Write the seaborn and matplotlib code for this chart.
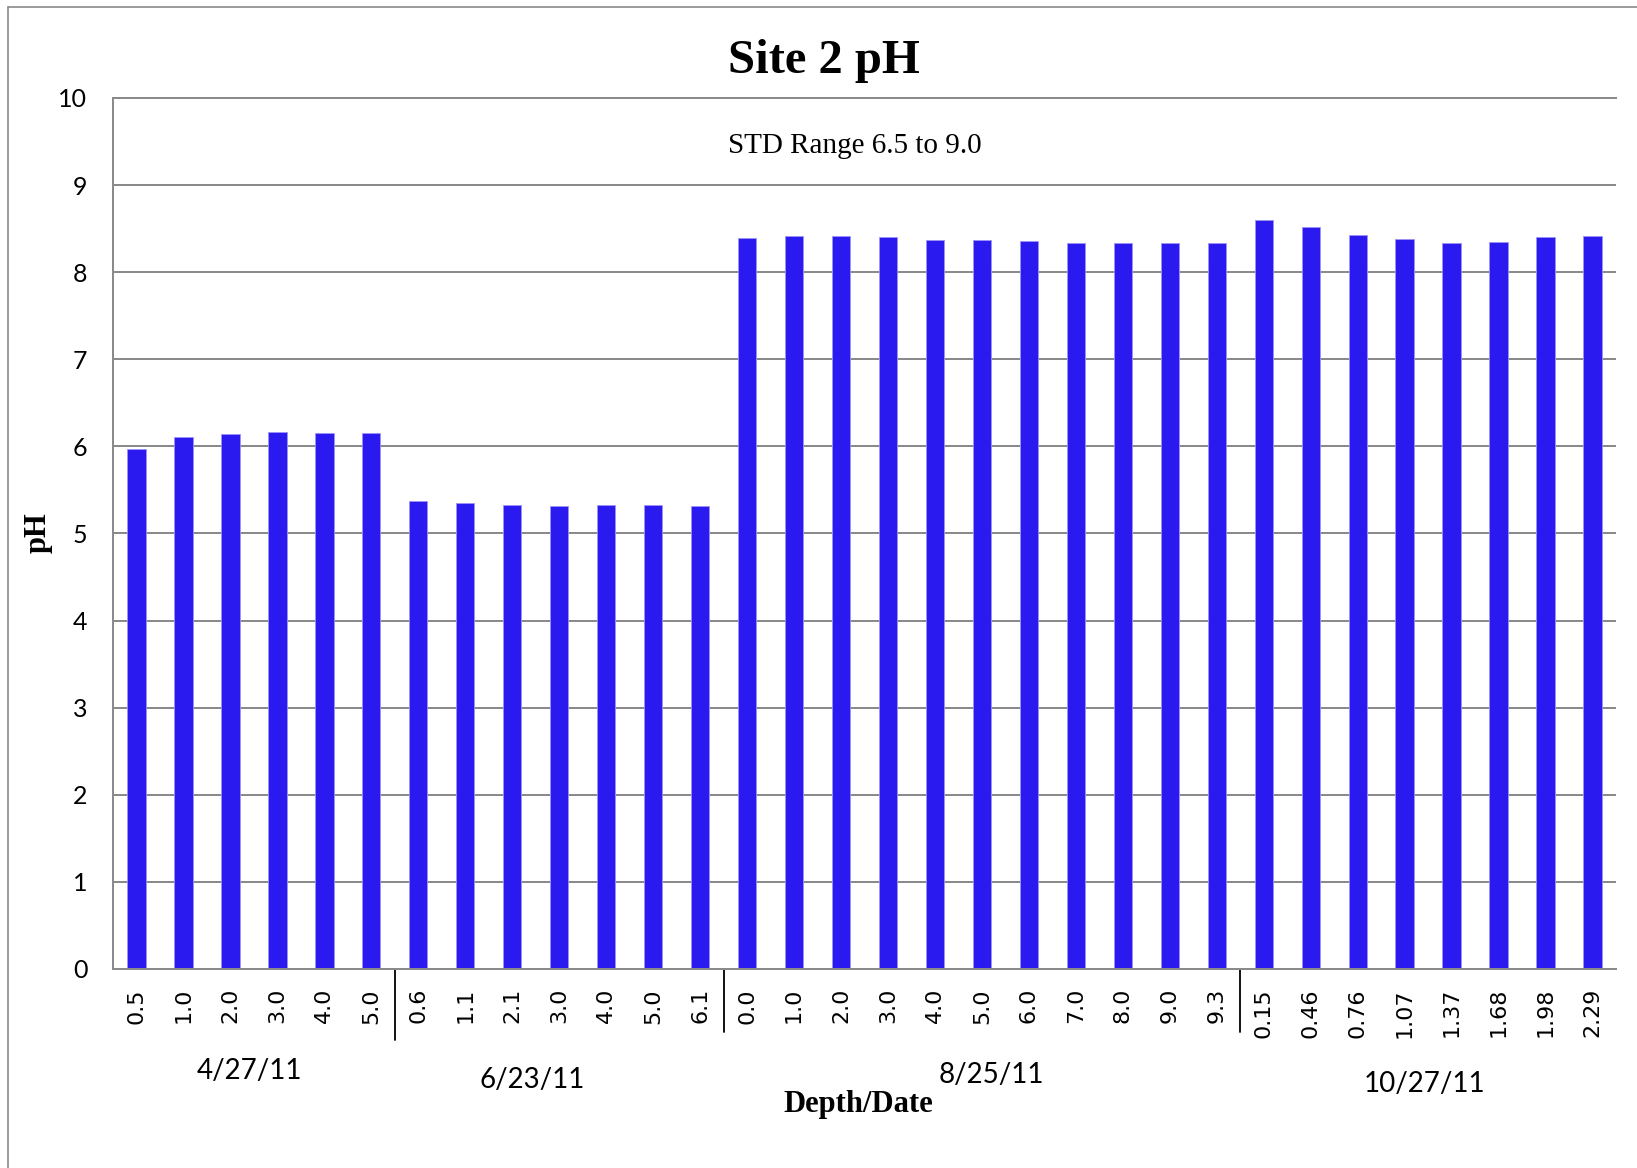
import numpy as np
import pandas as pd
import matplotlib
matplotlib.use("Agg")
import matplotlib.pyplot as plt
import matplotlib.transforms as mtransforms
from matplotlib.lines import Line2D
import seaborn as sns

# Data
dates = ["4/27/11", "6/23/11", "8/25/11", "10/27/11"]
depths_0427 = ["0.5", "1.0", "2.0", "3.0", "4.0", "5.0"]
depths_0623 = ["0.6", "1.1", "2.1", "3.0", "4.0", "5.0", "6.1"]
depths_0825 = ["0.0", "1.0", "2.0", "3.0", "4.0", "5.0", "6.0", "7.0", "8.0", "9.0", "9.3"]
depths_1027 = ["0.15", "0.46", "0.76", "1.07", "1.37", "1.68", "1.98", "2.29"]
ph_0427 = [5.97, 6.11, 6.14, 6.16, 6.15, 6.15]
ph_0623 = [5.37, 5.35, 5.33, 5.32, 5.33, 5.33, 5.31]
ph_0825 = [8.39, 8.41, 8.41, 8.40, 8.37, 8.37, 8.36, 8.33, 8.34, 8.34, 8.33]
ph_1027 = [8.60, 8.52, 8.43, 8.38, 8.34, 8.35, 8.40, 8.42]

depth_groups = [depths_0427, depths_0623, depths_0825, depths_1027]
ph_groups = [ph_0427, ph_0623, ph_0825, ph_1027]

rows = []
for date, dps, phs in zip(dates, depth_groups, ph_groups):
    for d, p in zip(dps, phs):
        rows.append({"date": date, "depth": d, "pH": p})
df = pd.DataFrame(rows)
df["pos"] = np.arange(len(df))

BAR = "#2A1AF0"
GRID = "#8A8A8A"
SERIF = "Liberation Serif"
CAL = "Lato"

sns.set_style("white")
plt.rcParams.update({
    "font.family": ["DejaVu Sans"],
    "text.color": "black",
    "axes.labelcolor": "black",
    "xtick.color": "black",
    "ytick.color": "black",
})

fig = plt.figure(figsize=(16.37, 11.68), dpi=100)
ax = fig.add_axes([0.06903, 0.17038, 0.98717 - 0.06903, 0.91610 - 0.17038])

sns.barplot(data=df, x="pos", y="pH", color=BAR, width=0.39, saturation=1,
            edgecolor="#9C94F8", linewidth=0.6, ax=ax, errorbar=None)

ax.set_xlim(-0.5, len(df) - 0.5)
ax.set_ylim(0, 10)
ax.set_yticks(range(0, 11))
ax.set_yticklabels([str(v) for v in range(0, 11)], fontsize=18, family=CAL)
ax.set_xticks(df["pos"])
ax.set_xticklabels(df["depth"], rotation=90, fontsize=16, family="DejaVu Sans")
ax.tick_params(axis="x", length=0, pad=13.7, labelcolor="black")
ax.tick_params(axis="y", length=6.5, width=1.44, color=GRID, pad=12, labelcolor="black")

ax.set_axisbelow(True)
ax.yaxis.grid(True, color=GRID, linewidth=1.44)
for side in ["left", "bottom", "top"]:
    ax.spines[side].set_color(GRID)
    ax.spines[side].set_linewidth(1.44)
ax.spines["right"].set_visible(False)
ax.set_xlabel("")
ax.set_ylabel("")

# group separators and date labels below the axis
trans = mtransforms.blended_transform_factory(ax.transData, ax.transAxes)
sizes = [len(g) for g in depth_groups]
edges = np.cumsum(sizes)
sep_len = [0.0815, 0.0723, 0.0723]
for e, L in zip(edges[:-1], sep_len):
    ax.plot([e - 0.5, e - 0.5], [0, -L], color="black", lw=1.3,
            transform=trans, clip_on=False)

starts = np.concatenate([[0], edges[:-1]])
label_dx = [-0.085, -0.58, 0.2, -0.07]
label_y = [-0.1263, -0.1366, -0.1309, -0.1412]
for date, s, n, dx, y in zip(dates, starts, sizes, label_dx, label_y):
    cx = s + (n - 1) / 2 + dx
    ax.text(cx, y, date, transform=trans, ha="center", va="baseline",
            fontsize=20, family=CAL, color="black")

fig.text(0.5241, 0.0479, "Depth/Date", ha="center", va="baseline",
         fontsize=22, fontweight="bold", family=SERIF, color="black")
fig.text(0.0232, 0.5437, "pH", ha="center", va="center", rotation=90,
         fontsize=22, fontweight="bold", family=SERIF, color="black")
fig.text(0.5034, 0.9375, "Site 2 pH", ha="center", va="baseline",
         fontsize=35, fontweight="bold", family=SERIF, color="black")
fig.text(0.5223, 0.869, "STD Range 6.5 to 9.0", ha="center", va="baseline",
         fontsize=21, family=SERIF, color="black")

# outer chart frame (top and left edges visible)
fx = 7.5 / 1637
fy = 1 - 7 / 1168
fig.add_artist(Line2D([fx, 1.0], [fy, fy], color=GRID, lw=1.2, transform=fig.transFigure))
fig.add_artist(Line2D([fx, fx], [0.0, fy], color=GRID, lw=1.2, transform=fig.transFigure))

fig.savefig("out.png", dpi=100)
